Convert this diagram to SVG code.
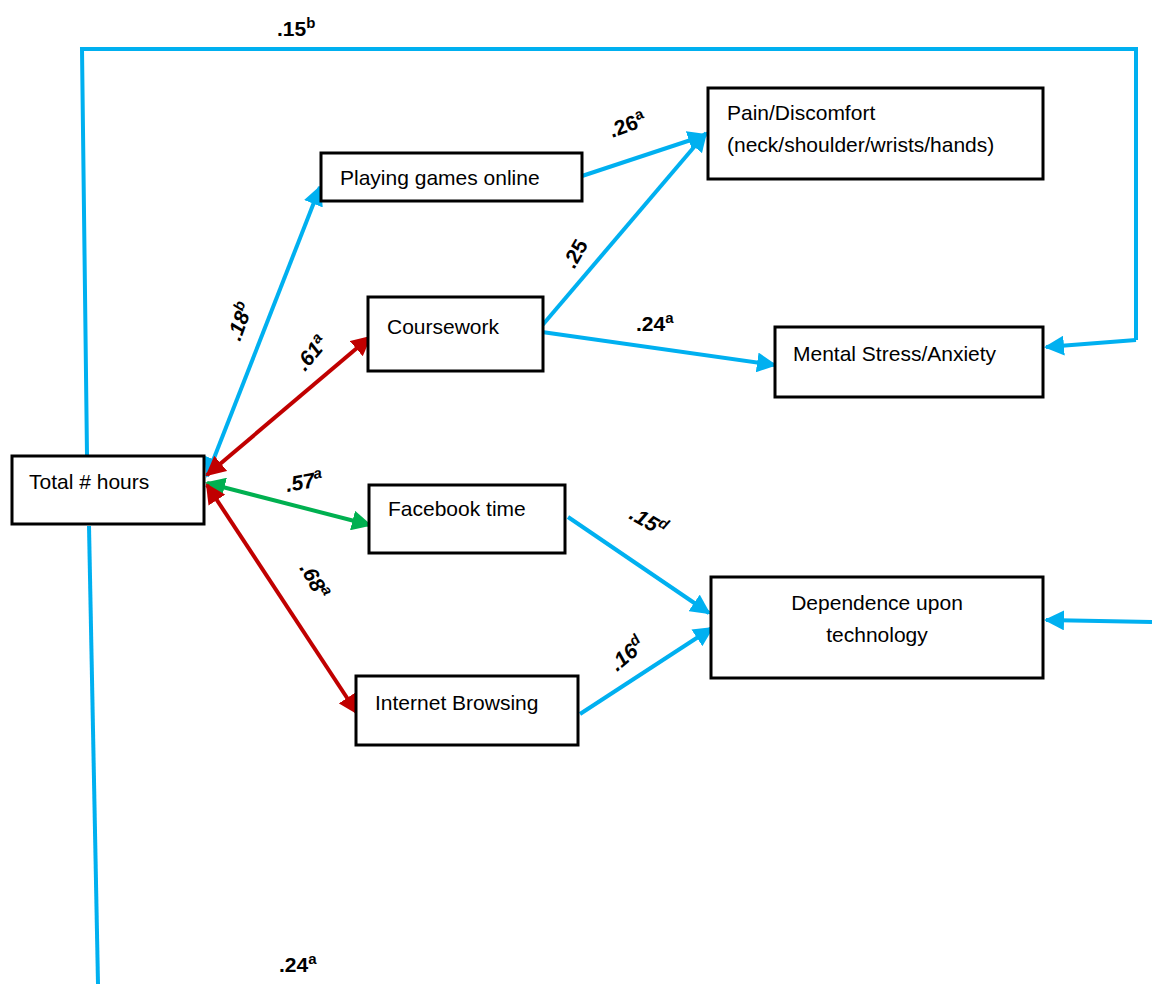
<svg xmlns="http://www.w3.org/2000/svg" width="1152" height="984" viewBox="0 0 1152 984">
<style>
.box{fill:#fff;stroke:#000;stroke-width:3}
.t{font-family:"Liberation Sans",Arial,sans-serif;font-size:21px;fill:#000}
.l{font-family:"Liberation Sans",Arial,sans-serif;font-size:21px;font-weight:bold;fill:#000}
.li{font-family:"Liberation Sans",Arial,sans-serif;font-size:21px;font-weight:bold;font-style:italic;fill:#000}
.s{font-size:15px}
.b{stroke:#00B0F0;stroke-width:4;fill:none}
.r{stroke:#C00000;stroke-width:4;fill:none}
.g{stroke:#00B050;stroke-width:4;fill:none}
</style>
<defs>
<marker id="ab" viewBox="0 0 10 10" refX="9" refY="5" markerWidth="5" markerHeight="5" orient="auto-start-reverse" markerUnits="strokeWidth"><path d="M0,0 L10,5 L0,10 Z" fill="#00B0F0"/></marker>
<marker id="ar" viewBox="0 0 10 10" refX="9" refY="5" markerWidth="5" markerHeight="5" orient="auto-start-reverse" markerUnits="strokeWidth"><path d="M0,0 L10,5 L0,10 Z" fill="#C00000"/></marker>
<marker id="ag" viewBox="0 0 10 10" refX="9" refY="5" markerWidth="5" markerHeight="5" orient="auto-start-reverse" markerUnits="strokeWidth"><path d="M0,0 L10,5 L0,10 Z" fill="#00B050"/></marker>
</defs>
<rect width="1152" height="984" fill="#fff"/>
<g id="connectors">
<polyline class="b" points="87,455 82,49 1136,49 1136,340" />
<line class="b" x1="1136" y1="340" x2="1046" y2="347" marker-end="url(#ab)"/>
<line class="b" x1="89" y1="526" x2="98" y2="984"/>
<line class="b" x1="1152" y1="622" x2="1046" y2="620" marker-end="url(#ab)"/>
<line class="b" x1="207" y1="476" x2="320" y2="187" marker-start="url(#ab)" marker-end="url(#ab)"/>
<line class="r" x1="207" y1="475" x2="370" y2="337" marker-start="url(#ar)" marker-end="url(#ar)"/>
<line class="g" x1="207" y1="483" x2="370" y2="525" marker-start="url(#ag)" marker-end="url(#ag)"/>
<line class="r" x1="207" y1="485" x2="357" y2="713" marker-start="url(#ar)" marker-end="url(#ar)"/>
<line class="b" x1="582" y1="176" x2="706" y2="135" marker-end="url(#ab)"/>
<line class="b" x1="540" y1="328" x2="706" y2="133" marker-end="url(#ab)"/>
<line class="b" x1="542" y1="332" x2="775" y2="365" marker-end="url(#ab)"/>
<line class="b" x1="568" y1="517" x2="709" y2="613" marker-end="url(#ab)"/>
<line class="b" x1="580" y1="714" x2="712" y2="628" marker-end="url(#ab)"/>
</g>
<g id="total"><rect class="box" x="12" y="456" width="192" height="68"/><text class="t" x="29" y="489">Total # hours</text></g>
<g id="games"><rect class="box" x="321" y="153" width="261" height="48"/><text class="t" x="340" y="185">Playing games online</text></g>
<g id="coursework"><rect class="box" x="368" y="297" width="175" height="74"/><text class="t" x="387" y="334">Coursework</text></g>
<g id="pain"><rect class="box" x="708" y="88" width="335" height="91"/><text class="t" x="727" y="120">Pain/Discomfort</text><text class="t" x="727" y="152">(neck/shoulder/wrists/hands)</text></g>
<g id="mental"><rect class="box" x="775" y="327" width="268" height="70"/><text class="t" x="793" y="361">Mental Stress/Anxiety</text></g>
<g id="facebook"><rect class="box" x="369" y="485" width="196" height="68"/><text class="t" x="388" y="516">Facebook time</text></g>
<g id="dependence"><rect class="box" x="711" y="577" width="332" height="101"/><text class="t" x="877" y="610" text-anchor="middle">Dependence upon</text><text class="t" x="877" y="642" text-anchor="middle">technology</text></g>
<g id="internet"><rect class="box" x="356" y="676" width="222" height="69"/><text class="t" x="375" y="710">Internet Browsing</text></g>
<g id="labels">
<text class="l" x="277" y="36">.15<tspan class="s" dy="-8">b</tspan></text>
<text class="l" transform="translate(612,138) rotate(-20)">.26<tspan class="s" dy="-8">a</tspan></text>
<text class="l" transform="translate(574,270) rotate(-60)">.25</text>
<text class="l" x="636" y="331">.24<tspan class="s" dy="-8">a</tspan></text>
<text class="li" transform="translate(240,342) rotate(-70)">.18<tspan class="s" dy="-8">b</tspan></text>
<text class="li" transform="translate(305,372) rotate(-50)">.61<tspan class="s" dy="-8">a</tspan></text>
<text class="li" transform="translate(287,492) rotate(-10)">.57<tspan class="s" dy="-8">a</tspan></text>
<text class="li" transform="translate(299,568) rotate(60)">.68<tspan class="s" dy="-8">a</tspan></text>
<text class="li" transform="translate(628,518) rotate(30)">.15<tspan class="s" dy="-8">d</tspan></text>
<text class="li" transform="translate(617,672) rotate(-40)">.16<tspan class="s" dy="-8">d</tspan></text>
<text class="l" x="279" y="972">.24<tspan class="s" dy="-8">a</tspan></text>
</g>
</svg>
